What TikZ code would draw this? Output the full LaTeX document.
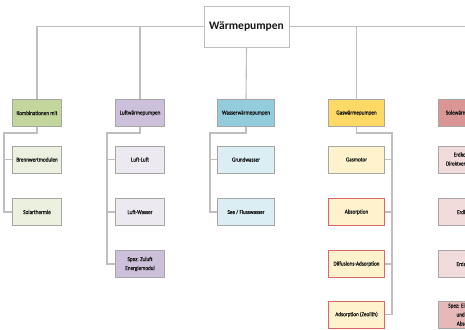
\documentclass[tikz,border=0pt]{standalone}
\usepackage{fontspec}
\newfontfamily\cfont[FakeStretch=0.87,FakeBold=0.6]{Carlito}
\newfontfamily\rfont{Carlito Bold}
\definecolor{lineg}{HTML}{BFBFBF}
\definecolor{boxg}{HTML}{A6A6A6}
\definecolor{kombiH}{HTML}{C3D69B}
\definecolor{kombiC}{HTML}{EBF1DE}
\definecolor{luftH}{HTML}{CCC0DA}
\definecolor{luftC}{HTML}{ECE9F1}
\definecolor{wasH}{HTML}{93CDDD}
\definecolor{wasC}{HTML}{DBEEF4}
\definecolor{gasH}{HTML}{FFD966}
\definecolor{gasC}{HTML}{FFF2CC}
\definecolor{gasR}{HTML}{E06666}
\definecolor{solH}{HTML}{D99694}
\definecolor{solC}{HTML}{F2DCDB}
\definecolor{solS}{HTML}{E6B9B8}
\begin{document}
\begin{tikzpicture}[x=1pt,y=-1pt,
  conn/.style={draw=lineg,line width=1.1pt},
  box/.style={draw=boxg,line width=0.8pt,minimum height=27pt,inner sep=1pt,align=center,
    font=\cfont\fontsize{6}{9}\selectfont,text=black!90},
  rootbox/.style={draw=lineg,line width=0.8pt,fill=white,minimum width=85pt,minimum height=41pt,
    font=\rfont\fontsize{11.5}{13}\selectfont,text=black!90},
  wA/.style={minimum width=49.5pt},
  wB/.style={minimum width=56.5pt},
  redbox/.style={draw=gasR}]
\useasboundingbox (0,0) rectangle (465,329);
\clip (0,0) rectangle (465,329);
\fill[white] (0,0) rectangle (465,329);
% headers
\node[box,wA,fill=kombiH] (kh) at (37,113) {Kombinationen mit};
\node[box,wA,fill=luftH] (lh) at (140,113) {Luftwärmepumpen};
\node[box,wB,fill=wasH] (wh) at (246,113) {Wasserwärmepumpen};
\node[box,wB,fill=gasH] (gh) at (356.5,113) {Gaswärmepumpen};
\node[box,wB,fill=solH] (sh) at (466.5,113) {Solewärmepumpen};
% root
\node[rootbox] (root) at (246.5,26.5) {Wärmepumpen};
% Kombi children
\node[box,wA,fill=kombiC] (k1) at (37,159.5) {Brennwertmodulen};
\node[box,wA,fill=kombiC] (k2) at (37,212) {Solarthermie};
% Luft children
\node[box,wA,fill=luftC] (l1) at (140,159.5) {Luft-Luft};
\node[box,wA,fill=luftC] (l2) at (140,212) {Luft-Wasser};
\node[box,wA,fill=luftH] (l3) at (140,264) {Spez: Zuluft\\Energiemodul};
% Wasser children
\node[box,wB,fill=wasC] (w1) at (246,159.5) {Grundwasser};
\node[box,wB,fill=wasC] (w2) at (246,212) {See / Flusswasser};
% Gas children
\node[box,wB,fill=gasC] (g1) at (356.5,159.5) {Gasmotor};
\node[box,wB,fill=gasC,redbox] (g2) at (356.5,212) {Absorption};
\node[box,wB,fill=gasC,redbox] (g3) at (356.5,264) {Diffusions-Adsorption};
\node[box,wB,fill=gasC,redbox] (g4) at (356.5,314.5) {Adsorption (Zeolith)};
% Sole children
\node[box,wB,fill=solC] (s1) at (466.5,159.5) {Erdkollektor\\Direktverdampfung};
\node[box,wB,fill=solC] (s2) at (466.5,212) {Erdkörbe};
\node[box,wB,fill=solC] (s3) at (466.5,264) {Erdsonde};
\node[box,wB,fill=solS] (s4) at (466.5,314.5) {Spez: Eisspeicher\\und Solar\\Absorber};
% bus coordinates
\coordinate (kb) at (4,133);
\coordinate (lb) at (107,133);
\coordinate (wb) at (210,133);
\coordinate (gb) at (392,133);
\coordinate (sb) at (502,133);
% top-level connectors
\draw[conn] (root.west) -| (kh.north);
\draw[conn] (root.west) -| (lh.north);
\draw[conn] (root.south) -- (wh.north);
\draw[conn] (root.east) -| (gh.north);
\draw[conn] (root.east) -| (sh.north);
% column connectors
\draw[conn] (kh.south) |- (kb) |- (k2.west);
\draw[conn] (kb |- k1.west) -- (k1.west);
\draw[conn] (lh.south) |- (lb) |- (l3.west);
\draw[conn] (lb |- l1.west) -- (l1.west);
\draw[conn] (lb |- l2.west) -- (l2.west);
\draw[conn] (wh.south) |- (wb) |- (w2.west);
\draw[conn] (wb |- w1.west) -- (w1.west);
\draw[conn] (gh.south) |- (gb) |- (g4.east);
\draw[conn] (gb |- g1.east) -- (g1.east);
\draw[conn] (gb |- g2.east) -- (g2.east);
\draw[conn] (gb |- g3.east) -- (g3.east);
\draw[conn] (sh.south) |- (sb) |- (s4.east);
\end{tikzpicture}
\end{document}
